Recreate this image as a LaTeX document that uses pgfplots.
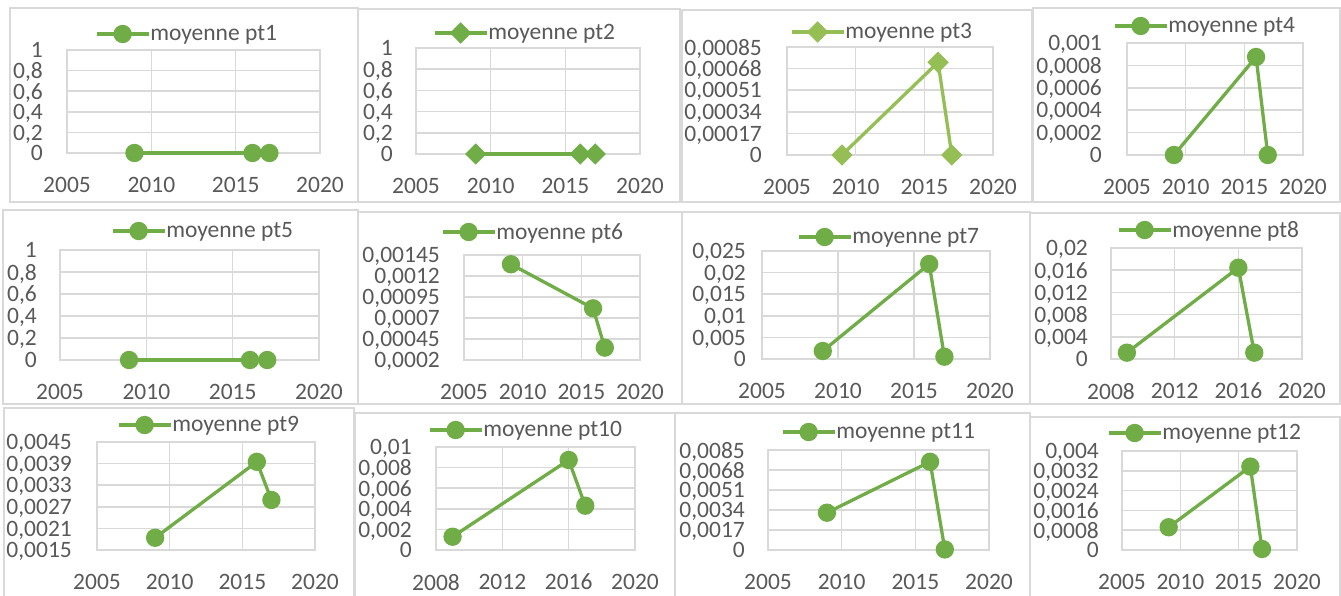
\documentclass[border=0pt]{standalone}
\usepackage{fontspec}
\setmainfont{Carlito}
\usepackage{pgfplots}
\pgfplotsset{compat=1.18}
\definecolor{g1}{HTML}{70AD47}
\definecolor{g2}{HTML}{95BE55}
\definecolor{gridgray}{HTML}{D9D9D9}
\definecolor{framegray}{HTML}{D9D9D9}
\definecolor{textgray}{HTML}{595959}
\newcommand{\tf}{\fontsize{23.5}{24}\selectfont}
\pgfplotsset{
  excel/.style={
    scale only axis, anchor=south west, clip=false,
    axis line style={draw=gridgray, line width=1.5pt},
    grid=major, major grid style={draw=gridgray, line width=1.5pt},
    tick style={draw=none},
    scaled y ticks=false, scaled x ticks=false,
    ticklabel style={font=\tf, text=textgray},
    xticklabel style={anchor=center, inner sep=0pt, text depth=0pt, yshift=-32pt},
    yticklabel style={anchor=east, inner sep=0pt, text depth=0pt, xshift=-24pt},
    legend style={draw=none, fill=none, inner sep=0pt, outer sep=0pt, anchor=west,
      font=\tf, text=textgray, nodes={inner sep=0pt, text=textgray},
      /tikz/every odd column/.append style={column sep=0pt}},
    legend cell align=left,
    legend image code/.code={\draw[mark repeat=2,mark phase=2,##1] plot coordinates {(0pt,0pt) (26pt,0pt) (52pt,0pt)};},
  },
  yrs/.style={xmin=2005, xmax=2020, xtick={2005,2010,2015,2020}, xticklabels={2005,2010,2015,2020}},
  yrsb/.style={xmin=2008, xmax=2020, xtick={2008,2012,2016,2020}, xticklabels={2008,2012,2016,2020}},
  gcirc/.style={color=g1, line width=3.3pt, mark=*, mark size=7.5pt, mark options={draw=none, fill=g1}},
  gdia/.style={color=#1, line width=3.3pt, mark=square*, mark size=5.9pt, mark options={draw=none, fill=#1, rotate=45}},
  yone/.style={ymin=0, ymax=1, ytick={0,0.2,0.4,0.6,0.8,1}, yticklabels={{0},{0,2},{0,4},{0,6},{0,8},{1}}},
}
\begin{document}
\begin{tikzpicture}
\path[use as bounding box, fill=white] (0pt,0pt) rectangle (1341pt,-596pt);
% frames
\begin{scope}[draw=framegray, line width=1.5pt]
\draw (10pt,-8pt) rectangle (358pt,-202pt);
\draw (358pt,-9pt) rectangle (680pt,-202pt);
\draw (682pt,-10pt) rectangle (1032pt,-202pt);
\draw (1033pt,-8pt) rectangle (1340pt,-202pt);
\draw (3pt,-210pt) rectangle (358pt,-404pt);
\draw (358pt,-212pt) rectangle (682pt,-404pt);
\draw (682pt,-212pt) rectangle (1030pt,-404pt);
\draw (1030pt,-213pt) rectangle (1340pt,-404pt);
\draw (4pt,-408pt) rectangle (354pt,-598pt);
\draw (355pt,-413pt) rectangle (675pt,-598pt);
\draw (675pt,-413pt) rectangle (1030pt,-598pt);
\draw (1030pt,-417pt) rectangle (1340pt,-598pt);
\end{scope}

% 1
\begin{axis}[excel, yrs, yone, at={(67pt,-153pt)}, width=253pt, height=103pt,
  legend style={at={({28/253},{119/103})}}]
\addplot[gcirc] coordinates {(2009,0) (2016,0) (2017,0)};
\addlegendentry{moyenne pt1}
\end{axis}
% 2
\begin{axis}[excel, yrs, yone, at={(416pt,-154pt)}, width=224pt, height=106pt,
  yticklabel style={xshift=1pt},
  legend style={at={({17/224},{121/106})}}]
\addplot[gdia=g1] coordinates {(2009,0) (2016,0) (2017,0)};
\addlegendentry{moyenne pt2}
\end{axis}
% 3
\begin{axis}[excel, yrs, at={(787pt,-155pt)}, width=206pt, height=108pt,
  ymin=0, ymax=0.00085, ytick={0,0.00017,0.00034,0.00051,0.00068,0.00085},
  yticklabels={{0},{0,00017},{0,00034},{0,00051},{0,00068},{0,00085}},
  yticklabel style={xshift=-1pt},
  legend style={at={({3/206},{123/108})}}]
\addplot[gdia=g2] coordinates {(2009,0) (2016,0.00073) (2017,0)};
\addlegendentry{moyenne pt3}
\end{axis}
% 4
\begin{axis}[excel, yrs, at={(1127pt,-155pt)}, width=176pt, height=112pt,
  ymin=0, ymax=0.001, ytick={0,0.0002,0.0004,0.0006,0.0008,0.001},
  yticklabels={{0},{0,0002},{0,0004},{0,0006},{0,0008},{0,001}},
  yticklabel style={xshift=-1pt},
  legend style={at={({-14/176},{129/112})}}]
\addplot[gcirc] coordinates {(2009,0) (2016,0.000875) (2017,0)};
\addlegendentry{moyenne pt4}
\end{axis}
% 5
\begin{axis}[excel, yrs, yone, at={(60pt,-360pt)}, width=259pt, height=110pt,
  yticklabel style={xshift=1pt},
  legend style={at={({51/259},{129/110})}}]
\addplot[gcirc] coordinates {(2009,0) (2016,0) (2017,0)};
\addlegendentry{moyenne pt5}
\end{axis}
% 6
\begin{axis}[excel, yrs, at={(464pt,-360pt)}, width=176pt, height=105pt,
  ymin=0.0002, ymax=0.00145, ytick={0.0002,0.00045,0.0007,0.00095,0.0012,0.00145},
  yticklabels={{0,0002},{0,00045},{0,0007},{0,00095},{0,0012},{0,00145}},
  legend style={at={({-23/176},{128/105})}}]
\addplot[gcirc] coordinates {(2009,0.00134) (2016,0.000815) (2017,0.000347)};
\addlegendentry{moyenne pt6}
\end{axis}
% 7
\begin{axis}[excel, yrs, at={(762pt,-359pt)}, width=228pt, height=108pt,
  ymin=0, ymax=0.025, ytick={0,0.005,0.01,0.015,0.02,0.025},
  yticklabels={{0},{0,005},{0,01},{0,015},{0,02},{0,025}},
  yticklabel style={xshift=8pt},
  legend style={at={({35/228},{122/108})}}]
\addplot[gcirc] coordinates {(2009,0.00185) (2016,0.022) (2017,0.00053)};
\addlegendentry{moyenne pt7}
\end{axis}
% 8
\begin{axis}[excel, yrsb, at={(1111pt,-359pt)}, width=191pt, height=111pt,
  ymin=0, ymax=0.02, ytick={0,0.004,0.008,0.012,0.016,0.02},
  yticklabels={{0},{0,004},{0,008},{0,012},{0,016},{0,02}},
  yticklabel style={xshift=1pt},
  legend style={at={({6/191},{129/111})}}]
\addplot[gcirc] coordinates {(2009,0.00114) (2016,0.01645) (2017,0.00114)};
\addlegendentry{moyenne pt8}
\end{axis}
% 9
\begin{axis}[excel, yrs, at={(97pt,-550pt)}, width=218pt, height=108pt,
  ymin=0.0015, ymax=0.0045, ytick={0.0015,0.0021,0.0027,0.0033,0.0039,0.0045},
  yticklabels={{0,0015},{0,0021},{0,0027},{0,0033},{0,0039},{0,0045}},
  yticklabel style={xshift=-1pt},
  legend style={at={({20/218},{125/108})}}]
\addplot[gcirc] coordinates {(2009,0.00184) (2016,0.00395) (2017,0.00289)};
\addlegendentry{moyenne pt9}
\end{axis}
% 10
\begin{axis}[excel, yrsb, at={(436pt,-550pt)}, width=199pt, height=103pt,
  ymin=0, ymax=0.01, ytick={0,0.002,0.004,0.006,0.008,0.01},
  yticklabels={{0},{0,002},{0,004},{0,006},{0,008},{0,01}},
  legend style={at={({-8/199},{120/103})}}]
\addplot[gcirc] coordinates {(2009,0.00129) (2016,0.00874) (2017,0.0043)};
\addlegendentry{moyenne pt10}
\end{axis}
% 11
\begin{axis}[excel, yrs, at={(768pt,-550pt)}, width=221pt, height=100pt,
  ymin=0, ymax=0.0085, ytick={0,0.0017,0.0034,0.0051,0.0068,0.0085},
  yticklabels={{0},{0,0017},{0,0034},{0,0051},{0,0068},{0,0085}},
  yticklabel style={xshift=1pt},
  legend style={at={({13/221},{118/100})}}]
\addplot[gcirc] coordinates {(2009,0.00317) (2016,0.0075) (2017,0.00005)};
\addlegendentry{moyenne pt11}
\end{axis}
% 12
\begin{axis}[excel, yrs, at={(1122pt,-550pt)}, width=175pt, height=99pt,
  ymin=0, ymax=0.004, ytick={0,0.0008,0.0016,0.0024,0.0032,0.004},
  yticklabels={{0},{0,0008},{0,0016},{0,0024},{0,0032},{0,004}},
  yticklabel style={xshift=1pt},
  legend style={at={({-15/175},{117/99})}}]
\addplot[gcirc] coordinates {(2009,0.00092) (2016,0.00337) (2017,0.00004)};
\addlegendentry{moyenne pt12}
\end{axis}
\end{tikzpicture}
\end{document}
